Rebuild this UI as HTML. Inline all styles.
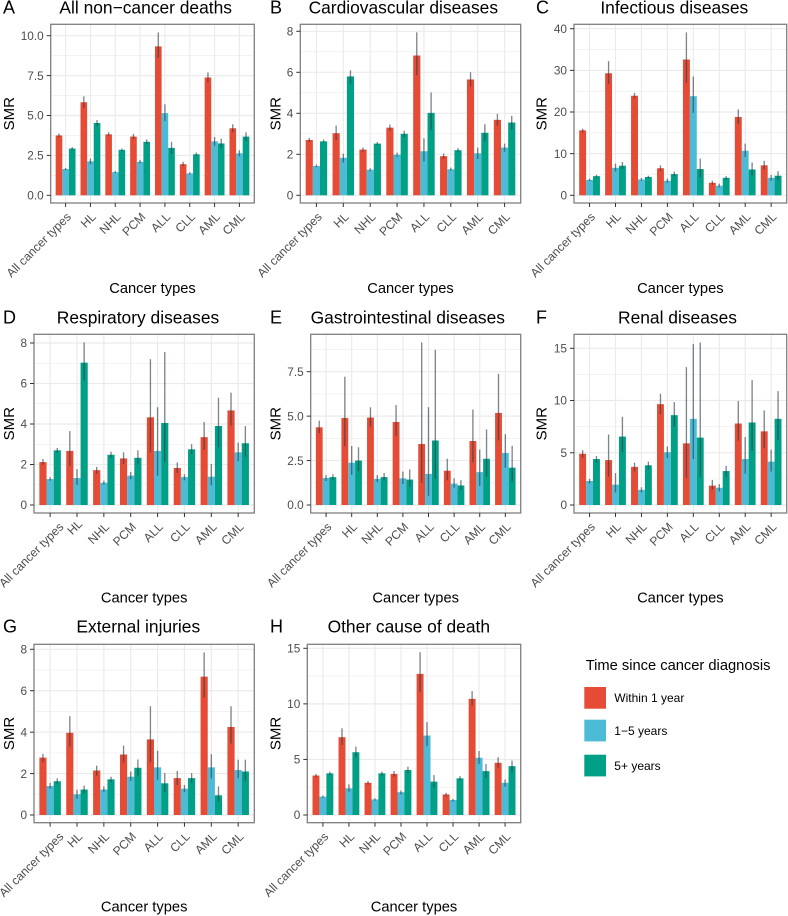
<!DOCTYPE html>
<html lang="en">
<head>
<meta charset="utf-8">
<title>SMR by cancer type and time since diagnosis</title>
<style>
html,body{margin:0;padding:0;background:#fff}
svg{display:block}
text{font-family:"Liberation Sans",Arial,sans-serif}
</style>
</head>
<body>
<svg id="chart" xmlns="http://www.w3.org/2000/svg" width="788" height="916" viewBox="0 0 788 916">
  <g id="panels"></g>
  <g>
    <text x="585.7" y="670" font-size="14.7" fill="#000">Time since cancer diagnosis</text>
    <rect x="584.3" y="687" width="21.7" height="21.7" fill="#E64B35"/>
    <text x="614.3" y="702.2" font-size="12" fill="#000">Within 1 year</text>
    <rect x="584.3" y="719.7" width="21.7" height="21.7" fill="#4DBBD5"/>
    <text x="614.3" y="735.2" font-size="12" fill="#000">1−5 years</text>
    <rect x="584.3" y="754.7" width="21.7" height="21.7" fill="#00A087"/>
    <text x="614.3" y="770.2" font-size="12" fill="#000">5+ years</text>
  </g>
</svg>
<script>
const categories = ["All cancer types","HL","NHL","PCM","ALL","CLL","AML","CML"];
const seriesNames = ["within-1-year","1-5-years","5-plus-years"];
const seriesColors = ["#E64B35","#4DBBD5","#00A087"];

/* A: All non-cancer deaths */
const aTicks = [0,2.5,5,7.5,10];
const aTickLabels = ["0.0","2.5","5.0","7.5","10.0"];
const aWithin = [3.75,5.83,3.82,3.68,9.33,1.95,7.38,4.2];
const aWithinLo = [3.65,5.45,3.7,3.52,8.6,1.82,7.1,3.95];
const aWithinHi = [3.87,6.2,3.95,3.85,10.2,2.1,7.7,4.45];
const aMid = [1.65,2.13,1.45,2.1,5.15,1.37,3.38,2.63];
const aMidLo = [1.58,1.95,1.38,2.0,4.65,1.3,3.1,2.45];
const aMidHi = [1.72,2.3,1.52,2.22,5.7,1.45,3.65,2.82];
const aLate = [2.93,4.53,2.85,3.35,2.97,2.57,3.25,3.68];
const aLateLo = [2.85,4.33,2.77,3.2,2.6,2.47,2.95,3.4];
const aLateHi = [3.02,4.72,2.93,3.5,3.35,2.68,3.55,3.95];

/* B: Cardiovascular diseases */
const bTicks = [0,2,4,6,8];
const bTickLabels = ["0","2","4","6","8"];
const bWithin = [2.7,3.03,2.23,3.3,6.82,1.91,5.65,3.68];
const bWithinLo = [2.6,2.7,2.13,3.15,5.85,1.78,5.3,3.4];
const bWithinHi = [2.8,3.4,2.33,3.45,7.95,2.04,6.0,3.97];
const bMid = [1.43,1.83,1.25,1.98,2.15,1.27,2.05,2.33];
const bMidLo = [1.37,1.6,1.18,1.88,1.65,1.2,1.77,2.13];
const bMidHi = [1.5,2.03,1.32,2.08,2.78,1.35,2.33,2.52];
const bLate = [2.63,5.8,2.52,3.0,4.02,2.2,3.05,3.55];
const bLateLo = [2.55,5.45,2.45,2.83,3.2,2.1,2.65,3.2];
const bLateHi = [2.72,6.1,2.6,3.15,5.02,2.3,3.47,3.88];

/* C: Infectious diseases */
const cTicks = [0,10,20,30,40];
const cTickLabels = ["0","10","20","30","40"];
const cWithin = [15.6,29.3,23.9,6.5,32.6,3.0,18.8,7.2];
const cWithinLo = [15.1,26.8,23.3,5.8,27,2.5,17.2,6.2];
const cWithinHi = [16.0,32.2,24.6,7.2,39.1,3.5,20.6,8.3];
const cMid = [3.7,6.6,3.8,3.5,23.8,2.3,10.7,4.2];
const cMidLo = [3.4,5.7,3.5,3.0,19.8,1.9,9.2,3.5];
const cMidHi = [4.0,7.6,4.2,4.0,28.5,2.8,12.4,4.9];
const cLate = [4.6,7.1,4.4,5.1,6.3,4.2,6.2,4.7];
const cLateLo = [4.3,6.3,4.1,4.5,4.3,3.7,4.8,3.7];
const cLateHi = [4.9,8.0,4.7,5.7,8.8,4.6,7.9,5.8];

/* D: Respiratory diseases */
const dTicks = [0,2,4,6,8];
const dTickLabels = ["0","2","4","6","8"];
const dWithin = [2.12,2.67,1.72,2.3,4.33,1.83,3.35,4.67];
const dWithinLo = [1.98,1.93,1.55,2.02,2.6,1.58,2.72,3.92];
const dWithinHi = [2.27,3.65,1.88,2.6,7.2,2.1,4.1,5.55];
const dMid = [1.28,1.33,1.1,1.45,2.67,1.38,1.4,2.6];
const dMidLo = [1.2,1.0,1.0,1.27,1.45,1.22,0.97,2.17];
const dMidHi = [1.37,1.77,1.2,1.63,4.83,1.52,2.02,3.08];
const dLate = [2.7,7.03,2.48,2.33,4.05,2.75,3.9,3.05];
const dLateLo = [2.57,6.17,2.33,2.0,2.15,2.52,2.85,2.38];
const dLateHi = [2.82,8.03,2.63,2.7,7.55,3.0,5.3,3.9];

/* E: Gastrointestinal diseases */
const eTicks = [0,2.5,5,7.5];
const eTickLabels = ["0.0","2.5","5.0","7.5"];
const eWithin = [4.37,4.9,4.92,4.67,3.43,1.93,3.6,5.18];
const eWithinLo = [4.03,3.3,4.4,3.87,1.25,1.4,2.4,3.63];
const eWithinHi = [4.75,7.22,5.5,5.62,9.15,2.6,5.37,7.38];
const eMid = [1.52,2.38,1.47,1.5,1.75,1.2,1.85,2.93];
const eMidLo = [1.35,1.7,1.3,1.18,0.52,0.97,1.07,2.1];
const eMidHi = [1.68,3.32,1.68,1.88,5.5,1.5,3.12,3.98];
const eLate = [1.57,2.5,1.57,1.43,3.63,1.1,2.6,2.1];
const eLateLo = [1.4,1.9,1.4,1.03,1.48,0.85,1.6,1.3];
const eLateHi = [1.73,3.25,1.8,2.0,8.73,1.4,4.25,3.33];

/* F: Renal diseases */
const fTicks = [0,5,10,15];
const fTickLabels = ["0","5","10","15"];
const fWithin = [4.9,4.3,3.65,9.65,5.9,1.85,7.8,7.05];
const fWithinLo = [4.5,2.7,3.2,8.7,2.6,1.45,6.15,5.45];
const fWithinHi = [5.25,6.75,4.05,10.65,13.2,2.4,9.95,9.05];
const fMid = [2.3,1.95,1.45,5.05,8.25,1.65,4.4,4.15];
const fMidLo = [2.05,1.2,1.2,4.5,4.4,1.3,3.0,3.2];
const fMidHi = [2.5,3.05,1.7,5.6,15.4,2.0,6.5,5.3];
const fLate = [4.4,6.55,3.8,8.6,6.45,3.25,7.9,8.25];
const fLateLo = [4.05,5.05,3.4,7.5,2.7,2.7,5.2,6.2];
const fLateHi = [4.7,8.45,4.15,9.85,15.55,3.75,11.95,10.9];

/* G: External injuries */
const gTicks = [0,2,4,6,8];
const gTickLabels = ["0","2","4","6","8"];
const gWithin = [2.77,3.97,2.15,2.92,3.65,1.78,6.68,4.25];
const gWithinLo = [2.55,3.3,1.9,2.52,2.55,1.45,5.67,3.45];
const gWithinHi = [2.95,4.77,2.38,3.35,5.25,2.13,7.85,5.25];
const gMid = [1.4,1.0,1.23,1.85,2.3,1.27,2.3,2.17];
const gMidLo = [1.27,0.78,1.1,1.65,1.7,1.1,1.77,1.77];
const gMidHi = [1.55,1.22,1.38,2.1,3.1,1.45,2.93,2.67];
const gLate = [1.63,1.23,1.72,2.28,1.53,1.78,0.95,2.1];
const gLateLo = [1.5,1.07,1.58,1.9,1.12,1.57,0.65,1.65];
const gLateHi = [1.77,1.42,1.85,2.68,2.03,2.02,1.38,2.67];

/* H: Other cause of death */
const hTicks = [0,5,10,15];
const hTickLabels = ["0","5","10","15"];
const hWithin = [3.55,7.0,2.9,3.7,12.7,1.85,10.45,4.7];
const hWithinLo = [3.4,6.3,2.75,3.45,11.1,1.65,9.85,4.25];
const hWithinHi = [3.7,7.8,3.05,3.95,14.65,2.0,11.15,5.2];
const hMid = [1.65,2.4,1.4,2.05,7.15,1.35,5.15,2.9];
const hMidLo = [1.55,2.1,1.3,1.85,6.2,1.2,4.6,2.55];
const hMidHi = [1.75,2.75,1.5,2.2,8.35,1.45,5.75,3.2];
const hLate = [3.75,5.65,3.75,4.05,3.0,3.3,3.95,4.4];
const hLateLo = [3.6,5.2,3.55,3.75,2.45,3.1,3.35,3.85];
const hLateHi = [3.9,6.15,3.9,4.35,3.6,3.5,4.6,4.9];

/* Panel layout: frame geometry in pixels, and the value/pixel pair that calibrates each y axis */
const layout = [
  {tag:"A",title:"All non−cancer deaths",tagX:3,titleX:145.7,titleY:13.5,smrX:14,L:50.7,R:254.3,T:24.3,B:203,y0:195.3,yRef:35.7,refVal:10,xTitleY:293,
   ticks:aTicks,labels:aTickLabels,est:[aWithin,aMid,aLate],lo:[aWithinLo,aMidLo,aLateLo],hi:[aWithinHi,aMidHi,aLateHi]},
  {tag:"B",title:"Cardiovascular diseases",tagX:270,titleX:403.3,titleY:13.5,smrX:280.7,L:300.3,R:520.7,T:24.3,B:203,y0:195.3,yRef:31.3,refVal:8,xTitleY:293,
   ticks:bTicks,labels:bTickLabels,est:[bWithin,bMid,bLate],lo:[bWithinLo,bMidLo,bLateLo],hi:[bWithinHi,bMidHi,bLateHi]},
  {tag:"C",title:"Infectious diseases",tagX:536,titleX:674.3,titleY:13.5,smrX:546.7,L:574,R:786.7,T:24.3,B:203,y0:195.3,yRef:28.7,refVal:40,xTitleY:293,
   ticks:cTicks,labels:cTickLabels,est:[cWithin,cMid,cLate],lo:[cWithinLo,cMidLo,cLateLo],hi:[cWithinHi,cMidHi,cLateHi]},
  {tag:"D",title:"Respiratory diseases",tagX:3,titleX:138,titleY:323.3,smrX:14,L:34,R:254.3,T:334.3,B:513,y0:505,yRef:343,refVal:8,xTitleY:602.6,firstLabelDx:8,secondLabelDy:-3,
   ticks:dTicks,labels:dTickLabels,est:[dWithin,dMid,dLate],lo:[dWithinLo,dMidLo,dLateLo],hi:[dWithinHi,dMidHi,dLateHi]},
  {tag:"E",title:"Gastrointestinal diseases",tagX:270,titleX:407.8,titleY:323.3,smrX:280.7,L:310.7,R:520.7,T:334.3,B:513,y0:505,yRef:371.7,refVal:7.5,xTitleY:602.6,
   ticks:eTicks,labels:eTickLabels,est:[eWithin,eMid,eLate],lo:[eWithinLo,eMidLo,eLateLo],hi:[eWithinHi,eMidHi,eLateHi]},
  {tag:"F",title:"Renal diseases",tagX:536,titleX:677.5,titleY:323.3,smrX:546.7,L:574,R:786.7,T:334.3,B:513,y0:505,yRef:348.3,refVal:15,xTitleY:602.6,
   ticks:fTicks,labels:fTickLabels,est:[fWithin,fMid,fLate],lo:[fWithinLo,fMidLo,fLateLo],hi:[fWithinHi,fMidHi,fLateHi]},
  {tag:"G",title:"External injuries",tagX:3,titleX:138.3,titleY:632.7,smrX:14,L:34,R:254.3,T:644.3,B:822.7,y0:815,yRef:649.3,refVal:8,xTitleY:911.7,firstLabelDx:8,
   ticks:gTicks,labels:gTickLabels,est:[gWithin,gMid,gLate],lo:[gWithinLo,gMidLo,gLateLo],hi:[gWithinHi,gMidHi,gLateHi]},
  {tag:"H",title:"Other cause of death",tagX:270,titleX:408.8,titleY:632.7,smrX:280.7,L:307.3,R:520.7,T:644.3,B:822.7,y0:815,yRef:648.3,refVal:15,xTitleY:911.7,
   ticks:hTicks,labels:hTickLabels,est:[hWithin,hMid,hLate],lo:[hWithinLo,hMidLo,hLateLo],hi:[hWithinHi,hMidHi,hLateHi]}
];

const NS = "http://www.w3.org/2000/svg";
function mk(parent, tag, props, txt) {
  const el = document.createElementNS(NS, tag);
  for (const k in props) el.setAttribute(k, props[k]);
  if (txt !== undefined) el.textContent = txt;
  parent.appendChild(el);
  return el;
}
const root = document.getElementById("panels");

layout.forEach(function (p) {
  const key = p.tag.toLowerCase();
  const unit = (p.R - p.L) / 8.2;
  const xScale = function (i) { return p.L + (0.6 + i) * unit; };
  const yScale = function (v) { return p.y0 + v * (p.yRef - p.y0) / p.refVal; };
  const barW = unit * 0.8 / 3;

  const g = mk(root, "g", {});
  
  

  const tagEl = mk(g, "text", {x:p.tagX, y:p.titleY, "font-size":18, fill:"#000"}, p.tag);
  
  

  const titleEl = mk(g, "text", {x:p.titleX, y:p.titleY, "font-size":17.4, "text-anchor":"middle", fill:"#000"}, p.title);
  
  

  const bg = mk(g, "rect", {x:p.L, y:p.T, width:p.R - p.L, height:p.B - p.T, fill:"#fff"});
  
  

  /* minor y gridlines halfway between major ticks */
  const step = p.ticks[1] - p.ticks[0];
  p.ticks.concat([p.ticks[p.ticks.length - 1] + step]).forEach(function (t) {
    const yy = yScale(t - step / 2);
    if (yy > p.T && yy < p.B) {
      const gl = mk(g, "line", {x1:p.L, x2:p.R, y1:yy, y2:yy, stroke:"#ebebeb", "stroke-width":0.6});
      
      
    }
  });
  p.ticks.forEach(function (t) {
    const gl = mk(g, "line", {x1:p.L, x2:p.R, y1:yScale(t), y2:yScale(t), stroke:"#ebebeb", "stroke-width":1.2});
    
    
  });
  categories.forEach(function (c, i) {
    const gl = mk(g, "line", {x1:xScale(i), x2:xScale(i), y1:p.T, y2:p.B, stroke:"#ebebeb", "stroke-width":1.2});
    
    
  });

  /* bars */
  p.est.forEach(function (vals, s) {
    vals.forEach(function (v, i) {
      const cx = xScale(i) + (s - 1) * barW;
      const top = Math.min(yScale(v), yScale(0));
      const bar = mk(g, "rect", {x:cx - barW / 2, y:top, width:barW, height:Math.abs(yScale(0) - yScale(v)), fill:seriesColors[s]});
      
      
    });
  });
  /* error bars */
  p.est.forEach(function (vals, s) {
    vals.forEach(function (v, i) {
      const cx = xScale(i) + (s - 1) * barW;
      const err = mk(g, "line", {x1:cx, x2:cx, y1:yScale(p.lo[s][i]), y2:yScale(p.hi[s][i]), stroke:"#2c3e46", "stroke-opacity":0.62, "stroke-width":1.35});
      
      
    });
  });

  const border = mk(g, "rect", {x:p.L, y:p.T, width:p.R - p.L, height:p.B - p.T, fill:"none", stroke:"#7f7f7f", "stroke-width":1.3});
  
  

  /* y axis */
  p.ticks.forEach(function (t, i) {
    const tk = mk(g, "line", {x1:p.L - 4, x2:p.L, y1:yScale(t), y2:yScale(t), stroke:"#333", "stroke-width":1});
    
    
    const lb = mk(g, "text", {x:p.L - 7, y:yScale(t) + 4.2, "font-size":11.8, "text-anchor":"end", fill:"#4d4d4d"}, p.labels[i]);
    
    
  });
  /* x axis */
  categories.forEach(function (c, i) {
    const tk = mk(g, "line", {x1:xScale(i), x2:xScale(i), y1:p.B, y2:p.B + 4, stroke:"#333", "stroke-width":1});
    
    
    const ax = xScale(i) + 6.2 + (i === 0 && p.firstLabelDx ? p.firstLabelDx : 0);
    const ay = p.B + 14.6 + (i === 1 && p.secondLabelDy ? p.secondLabelDy : 0);
    const lb = mk(g, "text", {x:ax, y:ay, "font-size":12.1, "text-anchor":"end", fill:"#4d4d4d", transform:"rotate(-45 " + ax + " " + ay + ")"}, c);
    
    
  });

  const xt = mk(g, "text", {x:(p.L + p.R) / 2, y:p.xTitleY, "font-size":14.7, "text-anchor":"middle", fill:"#000"}, "Cancer types");
  
  

  const ym = (p.T + p.B) / 2;
  const yt = mk(g, "text", {x:p.smrX, y:ym, "font-size":15, "text-anchor":"middle", fill:"#000", transform:"rotate(-90 " + p.smrX + " " + ym + ")"}, "SMR");
  
  
});
</script>
</body>
</html>
